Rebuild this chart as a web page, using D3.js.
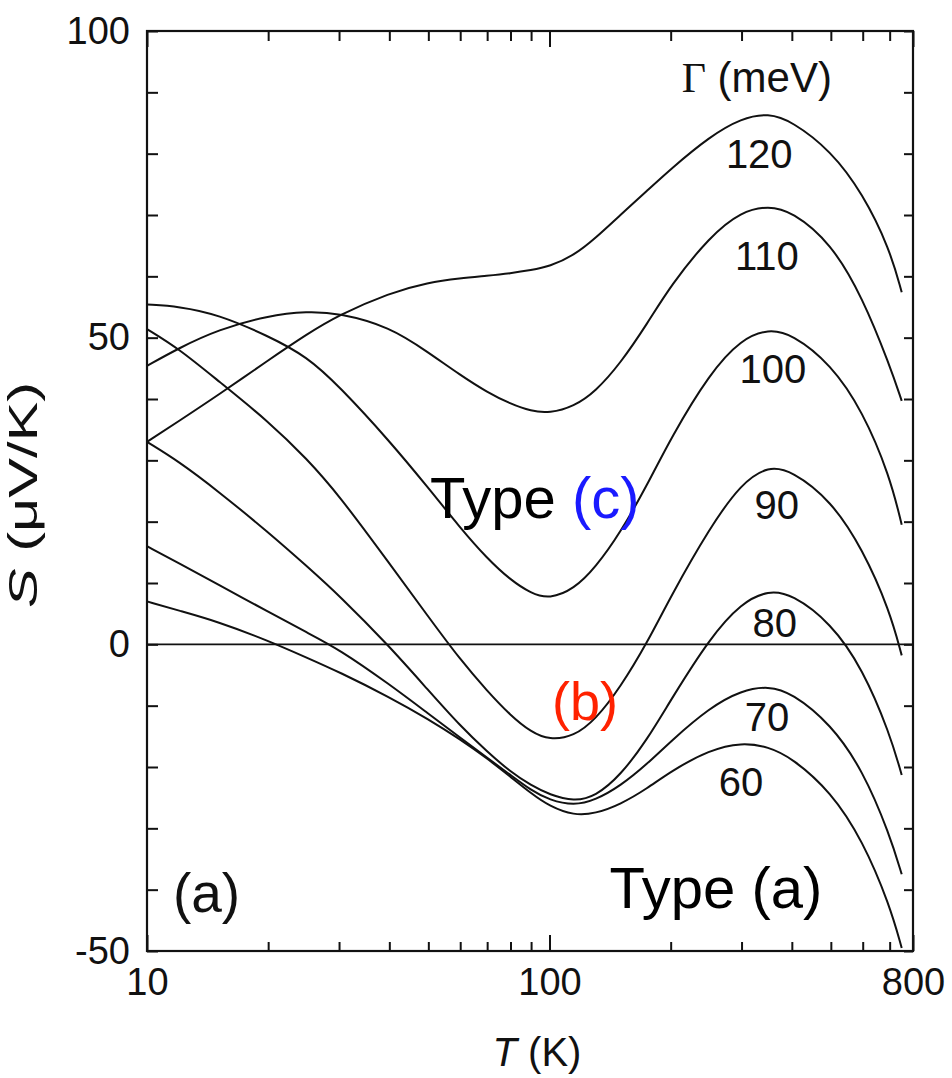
<!DOCTYPE html>
<html>
<head>
<meta charset="utf-8">
<script src="https://cdn.jsdelivr.net/npm/d3@7"></script>
<style>
  html, body { margin: 0; padding: 0; background: #fff; }
  svg { display: block; }
  text { font-family: "Liberation Sans", Arial, Helvetica, sans-serif; }
</style>
</head>
<body>
<svg id="chart" width="952" height="1078"></svg>
<script>
// ---- data ----
const temps = [10, 12, 15, 20, 25, 30, 40, 50, 60, 70, 80, 90, 100, 115, 130, 150, 175, 200, 250, 300, 350, 400, 500, 600, 700, 750];

const gammas = [120, 110, 100, 90, 80, 70, 60];

const S120 = [33.0, 36.4, 40.6, 46.3, 50.6, 53.7, 57.3, 59.0, 59.7, 60.1, 60.5, 61.0, 61.6, 63.4, 66.2, 70.0, 74.0, 77.5, 82.8, 85.8, 86.6, 85.3, 80.5, 73.5, 64.5, 57.4];
const S110 = [45.4, 48.3, 51.3, 53.6, 54.3, 54.0, 51.8, 47.6, 43.9, 41.1, 39.2, 38.0, 37.7, 38.8, 41.2, 45.8, 52.3, 58.5, 66.5, 70.6, 71.5, 70.6, 65.5, 56.5, 45.5, 39.7];
const S100 = [55.4, 55.1, 53.8, 50.3, 46.9, 42.1, 33.2, 25.5, 19.0, 14.0, 10.5, 8.3, 7.4, 9.0, 12.5, 18.2, 26.0, 33.6, 44.2, 49.8, 51.4, 50.6, 45.7, 38.0, 27.5, 19.5];
const S90  = [51.4, 48.2, 43.0, 36.4, 30.2, 24.3, 13.2, 4.5, -2.5, -7.6, -11.6, -14.3, -15.6, -15.0, -12.3, -7.0, 0.3, 7.8, 19.0, 26.3, 29.1, 28.3, 23.5, 15.5, 5.5, -1.8];
const S80  = [33.0, 29.8, 25.0, 18.3, 12.7, 8.0, -0.3, -7.5, -13.3, -17.5, -20.8, -23.0, -24.5, -25.6, -24.8, -21.4, -15.5, -9.1, 1.0, 6.8, 8.8, 8.2, 3.5, -4.0, -14.5, -21.3];
const S70  = [16.0, 13.2, 9.8, 5.3, 1.9, -0.8, -6.5, -11.3, -15.2, -18.5, -21.3, -23.8, -25.4, -26.3, -25.4, -23.1, -19.5, -15.8, -10.3, -7.5, -6.8, -7.9, -13.0, -20.5, -31.0, -37.5];
const S60  = [7.0, 5.5, 3.7, 0.6, -2.2, -4.5, -8.6, -12.2, -15.5, -18.6, -21.6, -24.3, -26.4, -27.9, -27.6, -26.1, -23.5, -20.7, -17.2, -16.0, -16.7, -18.5, -24.0, -32.0, -42.5, -49.5];

const seriesValues = [S120, S110, S100, S90, S80, S70, S60];

const xMajorTicks = [10, 100, 800];
const xMinorTicks = [20, 30, 40, 50, 60, 70, 80, 90, 200, 300, 400, 500, 600, 700];
const yMajorTicks = [-50, 0, 50, 100];
const yMinorTicks = [-40, -30, -20, -10, 10, 20, 30, 40, 60, 70, 80, 90];

// curve label anchors, in data coordinates (T, S)
const curveLabelT = [332, 347, 359, 367, 363, 347, 299];
const curveLabelS = [77.7, 61.0, 42.6, 20.4, 1.2, -14.1, -24.7];

// ---- layout ----
const svg = d3.select("#chart");
const padL = 147, padR = 913, padT = 31, padB = 951;

const x = d3.scaleLog().domain([10, 800]).range([padL, padR]);
const y = d3.scaleLinear().domain([-50, 100]).range([padB, padT]);

const g = svg.append("g");

// zero line
g.append("line")
  .attr("x1", x(10)).attr("x2", x(800))
  .attr("y1", y(0)).attr("y2", y(0))
  .attr("stroke", "#111").attr("stroke-width", 1.8);

// curves
const line = d3.line()
  .x((d, i) => x(temps[i]))
  .y(d => y(d))
  .curve(d3.curveBasis);

g.selectAll("path.curve")
  .data(seriesValues)
  .join("path")
  .attr("class", "curve")
  .attr("d", d => line(d))
  .attr("fill", "none")
  .attr("stroke", "#111")
  .attr("stroke-width", 2);

// axes: ticks pointing inward
function styleAxis(sel) {
  sel.select(".domain").remove();
  sel.selectAll(".tick line").attr("stroke", "#111").attr("stroke-width", 2);
  sel.selectAll(".tick text").attr("fill", "#111")
     .style("font-family", '"Liberation Sans", Arial, sans-serif').style("font-size", "38px");
}
const plainFmt = d => String(d);

// bottom
g.append("g").attr("transform", `translate(0,${padB})`)
  .call(d3.axisBottom(x).tickValues(xMajorTicks).tickSize(-16).tickPadding(17).tickFormat(plainFmt))
  .call(styleAxis);
g.append("g").attr("transform", `translate(0,${padB})`)
  .call(d3.axisBottom(x).tickValues(xMinorTicks).tickSize(-9).tickFormat(""))
  .call(styleAxis);
// top
g.append("g").attr("transform", `translate(0,${padT})`)
  .call(d3.axisTop(x).tickValues(xMajorTicks).tickSize(-16).tickFormat(""))
  .call(styleAxis);
g.append("g").attr("transform", `translate(0,${padT})`)
  .call(d3.axisTop(x).tickValues(xMinorTicks).tickSize(-10).tickFormat(""))
  .call(styleAxis);
// left
g.append("g").attr("transform", `translate(${padL},0)`)
  .call(d3.axisLeft(y).tickValues(yMajorTicks).tickSize(-11).tickPadding(17).tickFormat(plainFmt))
  .call(styleAxis);
g.append("g").attr("transform", `translate(${padL},0)`)
  .call(d3.axisLeft(y).tickValues(yMinorTicks).tickSize(-11).tickFormat(""))
  .call(styleAxis);
// right
g.append("g").attr("transform", `translate(${padR},0)`)
  .call(d3.axisRight(y).tickValues(yMajorTicks.concat(yMinorTicks)).tickSize(-9).tickFormat(""))
  .call(styleAxis);

// frame
g.append("rect")
  .attr("x", padL).attr("y", padT)
  .attr("width", padR - padL).attr("height", padB - padT)
  .attr("fill", "none").attr("stroke", "#111").attr("stroke-width", 2.2);

// curve labels
g.selectAll("text.glabel")
  .data(gammas)
  .join("text")
  .attr("class", "glabel")
  .attr("x", (d, i) => x(curveLabelT[i]))
  .attr("y", (d, i) => y(curveLabelS[i]))
  .attr("text-anchor", "middle")
  .attr("fill", "#111")
  .style("font-size", "40px")
  .text(d => d);

// Gamma header
const gh = g.append("text")
  .attr("x", x(213)).attr("y", y(90.0))
  .attr("fill", "#111")
  .style("font-size", "42px");
gh.append("tspan").style("font-family", '"Liberation Serif", "Times New Roman", serif').text("Γ");
gh.append("tspan").text(" (meV)");

// annotations
const tc = g.append("text").attr("x", x(50.5)).attr("y", y(20.6))
  .style("font-size", "58px").attr("fill", "#000");
tc.append("tspan").text("Type ");
tc.append("tspan").attr("fill", "#1a1aff").text("(c)");

g.append("text").attr("x", x(101.4)).attr("y", y(-12.3))
  .style("font-size", "54px").attr("fill", "#ff2200").text("(b)");

g.append("text").attr("x", x(141)).attr("y", y(-43))
  .style("font-size", "58px").attr("fill", "#000").text("Type (a)");

g.append("text").attr("x", x(11.6)).attr("y", y(-43.6))
  .style("font-size", "55px").attr("fill", "#111").text("(a)");

// axis titles
const xt = svg.append("text")
  .attr("x", 537).attr("y", 1066)
  .attr("text-anchor", "middle").attr("fill", "#111")
  .style("font-size", "40px");
xt.append("tspan").style("font-style", "italic").text("T");
xt.append("tspan").text(" (K)");

const yt = svg.append("text")
  .attr("transform", `translate(37,608) rotate(-90)`)
  .attr("text-anchor", "start").attr("fill", "#111")
  .attr("textLength", 226).attr("lengthAdjust", "spacingAndGlyphs")
  .style("font-size", "40px");
yt.append("tspan").style("font-style", "italic").text("S");
yt.append("tspan").text(" (μV/K)");
</script>
</body>
</html>
